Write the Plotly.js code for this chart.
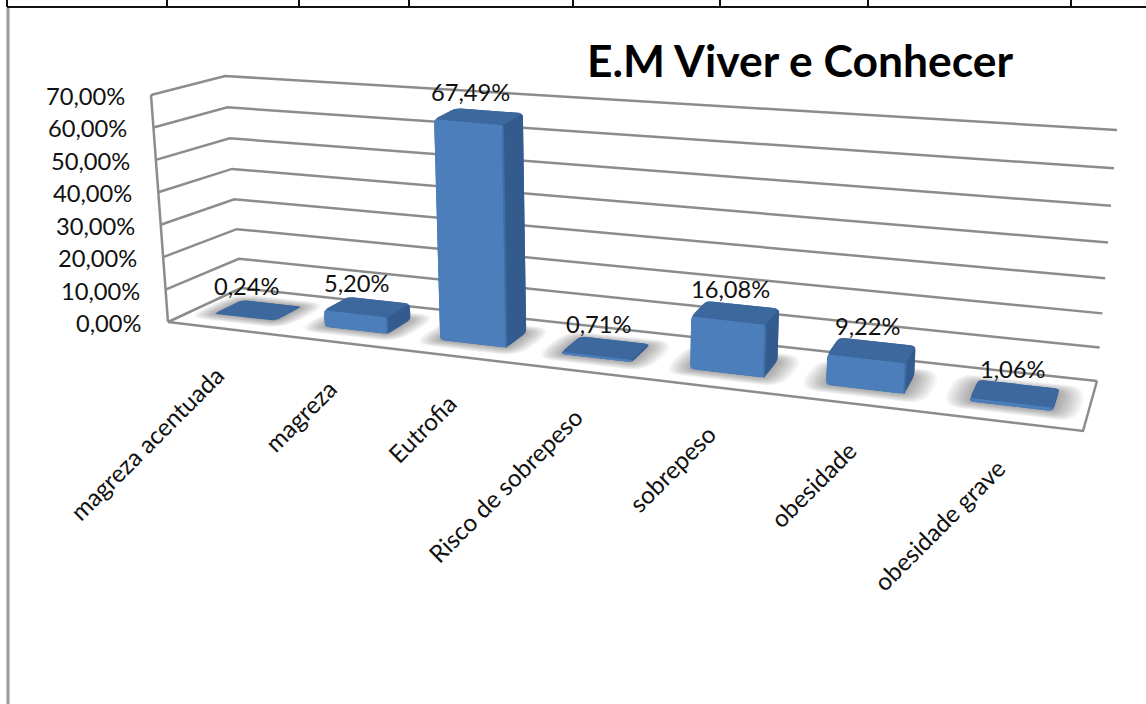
<!DOCTYPE html>
<html>
<head>
<meta charset="utf-8">
<script src="https://cdn.plot.ly/plotly-3.0.1.min.js"></script>
<style>html,body{margin:0;padding:0;background:#fff;overflow:hidden}#chart{width:1146px;height:704px}</style>
</head>
<body>
<div id="chart"></div>
<script>
// ---- chart data ----
const categories = ['magreza acentuada','magreza','Eutrofia','Risco de sobrepeso','sobrepeso','obesidade','obesidade grave'];
const values = [0.24, 5.20, 67.49, 0.71, 16.08, 9.22, 1.06];
const dataLabels = ['0,24%','5,20%','67,49%','0,71%','16,08%','9,22%','1,06%'];
const yTicks = [0,10,20,30,40,50,60,70];
const yTickLabels = ['0,00%','10,00%','20,00%','30,00%','40,00%','50,00%','60,00%','70,00%'];
const chartTitle = 'E.M Viver e Conhecer';
const tableTicks = [7,167,299,409,573,720,868,1071];

// ---- oblique projection of the 3D box onto the page axes ----
const FL=[168,322],FR=[1083,431],BL=[241,288],BR=[1097,381];
const dFL=[-17,-227],dFR=[21,-245],dBL=[-16,-212],dBR=[20,-251];
const curve=[[0],[0.06],[0.04],[0.08]];
const K=1.212, H=70;
const warp=t=>t/(K-(K-1)*t);
function bil(a,b,c,d,u,v,i){return (1-v)*((1-u)*a[i]+u*b[i])+v*((1-u)*c[i]+u*d[i]);}
function P(t,v,h){
  const u=warp(t), x=h/H, a=1-bil(curve[0],curve[1],curve[2],curve[3],u,v,0), f=x*(a+(1-a)*x);
  return [bil(FL,FR,BL,BR,u,v,0)+f*bil(dFL,dFR,dBL,dBR,u,v,0),
          bil(FL,FR,BL,BR,u,v,1)+f*bil(dFL,dFR,dBL,dBR,u,v,1)];
}
function rounded(pts,r){
  const out=[],n=pts.length;
  for(let i=0;i<n;i++){
    const p=pts[i],a=pts[(i-1+n)%n],b=pts[(i+1)%n];
    const la=Math.hypot(a[0]-p[0],a[1]-p[1]),lb=Math.hypot(b[0]-p[0],b[1]-p[1]);
    const ra=Math.min(r,la/2.2),rb=Math.min(r,lb/2.2);
    const s=[p[0]+(a[0]-p[0])*ra/la,p[1]+(a[1]-p[1])*ra/la];
    const e=[p[0]+(b[0]-p[0])*rb/lb,p[1]+(b[1]-p[1])*rb/lb];
    for(let k=0;k<=5;k++){const q=k/5;
      out.push([(1-q)*(1-q)*s[0]+2*q*(1-q)*p[0]+q*q*e[0],(1-q)*(1-q)*s[1]+2*q*(1-q)*p[1]+q*q*e[1]]);}
  }
  return out;
}
function poly(pts,fill,name){
  const c=pts.concat([pts[0]]);
  return {type:'scatter',mode:'lines',x:c.map(p=>p[0]),y:c.map(p=>p[1]),fill:'toself',fillcolor:fill,
          line:{width:0,color:fill},hoverinfo:'skip',showlegend:false,name:name||''};
}
function line(pts,color,width,name){
  return {type:'scatter',mode:'lines',x:pts.map(p=>p[0]),y:pts.map(p=>p[1]),
          line:{color:color,width:width},hoverinfo:'skip',showlegend:false,name:name||''};
}

const GRID='#8c8c8c';
const traces=[];
// walls + floor
yTicks.forEach(h=>traces.push(line([P(0,0,h),P(0,1,h),P(1,1,h)],GRID,2.5,'grid '+h)));
traces.push(line([P(0,0,0),P(0,0,H)],GRID,2.5,'wall edge'));
traces.push(line([P(0,0,0),P(1,0,0),P(1,1,0)],GRID,2.5,'floor edge'));

const n=categories.length, halfW=0.275/n, v0=0.32, v1=0.70;
// soft floor shadows
values.forEach((val,i)=>{
  const c=(i+.5)/n;
  for(let k=10;k>=1;k--){
    const dt=k*0.0025, dv=k*0.016;
    const q=[P(c-halfW-dt,v0-dv,0),P(c+halfW+dt,v0-dv,0),P(c+halfW+dt,v1+dv,0),P(c-halfW-dt,v1+dv,0)];
    traces.push(poly(rounded(q,6+k*1.4),'rgba(50,50,50,0.05)','shadow'));
  }
});
// bars
values.forEach((val,i)=>{
  const c=(i+.5)/n,t0=c-halfW,t1=c+halfW;
  const hull=[P(t0,v0,0),P(t1,v0,0),P(t1,v1,0),P(t1,v1,val),P(t0,v1,val),P(t0,v0,val)];
  const side=[P(t1,v0,0),P(t1,v1,0),P(t1,v1,val),P(t1,v0,val)];
  const top=[P(t0,v0,val),P(t1,v0,val),P(t1,v1,val),P(t0,v1,val)];
  const front=[P(t0,v0,0),P(t1,v0,0),P(t1,v0,val),P(t0,v0,val)];
  traces.push(poly(rounded(hull,5),'#3c689e','body '+categories[i]));
  traces.push(poly(rounded(side,3),'#335b8d','side '+categories[i]));
  traces.push(poly(rounded(top,4),'#3c689e','top '+categories[i]));
  if(val>0.5) traces.push(poly(rounded(front,3),'#4b7ebb','front '+categories[i]));
  if(val>3) traces.push(line([P(t1,v0,val*0.98),P(t1,v0,0)],'#3f6da6',2,'bevel '+categories[i]));
});

const LBL='Lato, Carlito, Calibri, sans-serif';
const annotations=[];
yTicks.forEach((h,i)=>{const p=P(0,0,h);
  annotations.push({x:p[0],y:p[1],xref:'x',yref:'y',text:yTickLabels[i],showarrow:false,xanchor:'right',yanchor:'middle',xshift:-24,yshift:-1,
    font:{family:LBL,size:23.7,color:'#111'}});});
values.forEach((val,i)=>{const c=(i+.5)/n,p=P(c,.5,val);
  annotations.push({x:p[0],y:p[1],xref:'x',yref:'y',text:dataLabels[i],showarrow:false,xanchor:'center',yanchor:'middle',xshift:-11+9.5*c,yshift:24.5,
    font:{family:LBL,size:23.7,color:'#111'}});});
categories.forEach((cat,i)=>{const p=P((i+.5)/n,0,0);
  annotations.push({x:p[0],y:p[1],xref:'x',yref:'y',text:cat,showarrow:false,textangle:-45,xanchor:'right',yanchor:'top',xshift:9,yshift:-29,
    font:{family:LBL,size:24.3,color:'#111'}});});

const shapes=[
  {type:'line',xref:'x',yref:'y',x0:8,x1:8,y0:8,y1:704,line:{color:'#9a9a9a',width:3}},
  {type:'line',xref:'x',yref:'y',x0:7,x1:1146,y0:7,y1:7,line:{color:'#111',width:2}}
];
tableTicks.forEach(x=>shapes.push({type:'line',xref:'x',yref:'y',x0:x,x1:x,y0:0,y1:7,line:{color:'#111',width:2}}));

Plotly.newPlot('chart',traces,{
  width:1146,height:704,margin:{l:0,r:0,t:0,b:0},paper_bgcolor:'#fff',plot_bgcolor:'#fff',showlegend:false,
  title:{text:'<b>'+chartTitle+'</b>',x:800/1146,xanchor:'center',xref:'paper',y:1-61/704,yanchor:'middle',yref:'paper',
         font:{family:LBL,size:44.4,color:'#000'}},
  xaxis:{range:[0,1146],visible:false,fixedrange:true},
  yaxis:{range:[704,0],visible:false,fixedrange:true},
  shapes:shapes,annotations:annotations
},{displayModeBar:false,staticPlot:true});
</script>
</body>
</html>
